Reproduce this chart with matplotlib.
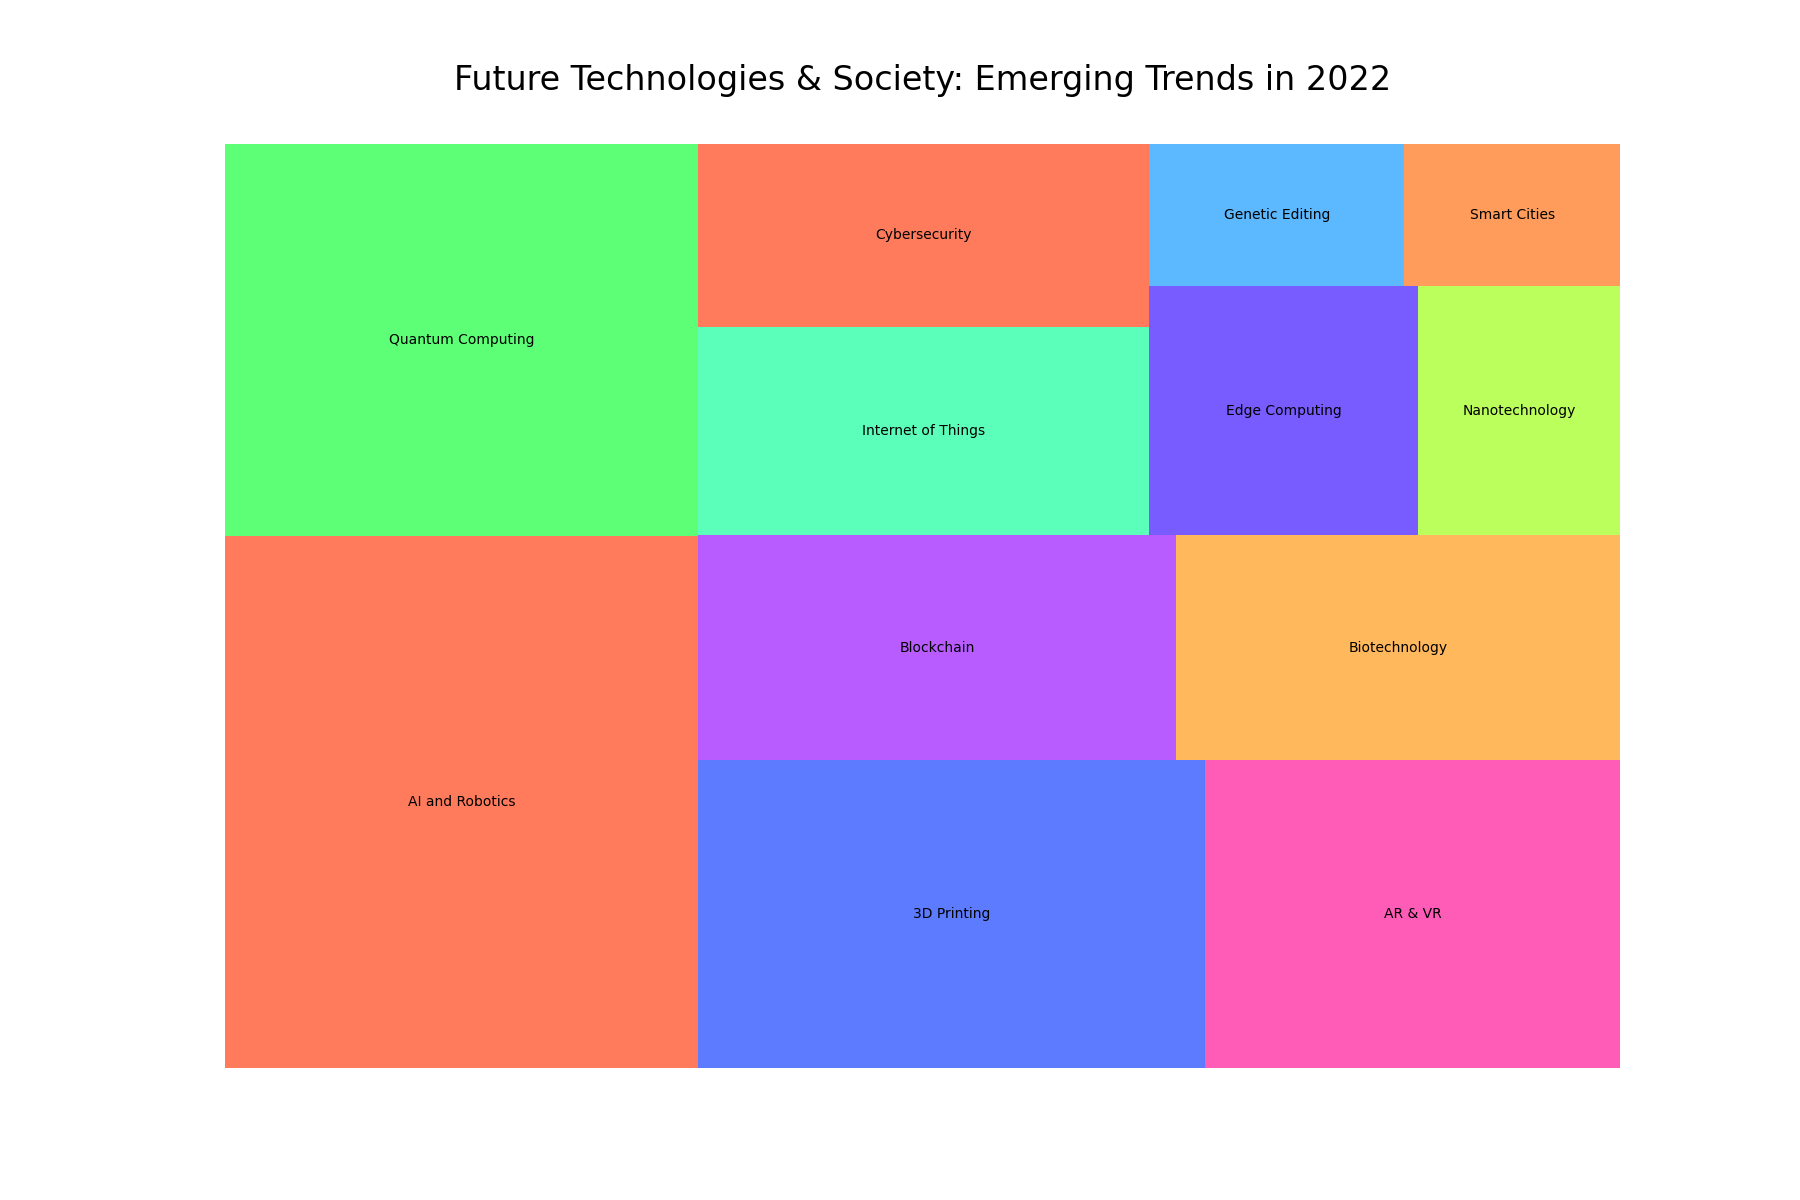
import matplotlib
matplotlib.use("Agg")
import matplotlib.pyplot as plt

labels = ["AI and Robotics", "Quantum Computing", "3D Printing", "AR & VR",
          "Blockchain", "Biotechnology", "Internet of Things", "Cybersecurity",
          "Edge Computing", "Nanotechnology", "Genetic Editing", "Smart Cities"]
values = [19.5, 14.4, 12.1, 9.9, 8.35, 7.75, 7.3, 6.4, 5.2, 3.9, 2.82, 2.38]
colors = ["#FF7B5C", "#5CFF75", "#5C7BFF", "#FF5CB8", "#B85CFF", "#FFB85C",
          "#5CFFBA", "#FF7B5C", "#785CFF", "#BAFF5C", "#5CB8FF", "#FF9C5C"]


# squarified layout (same scheme as the squarify package)
def layout(sizes, x, y, dx, dy):
    rects = []
    if dx >= dy:
        w = sum(sizes) / dy
        for s in sizes:
            rects.append((x, y, w, s / w))
            y += s / w
    else:
        h = sum(sizes) / dx
        for s in sizes:
            rects.append((x, y, s / h, h))
            x += s / h
    return rects


def leftover(sizes, x, y, dx, dy):
    if dx >= dy:
        w = sum(sizes) / dy
        return x + w, y, dx - w, dy
    h = sum(sizes) / dx
    return x, y + h, dx, dy - h


def worst(sizes, x, y, dx, dy):
    return max(max(w / h, h / w) for _, _, w, h in layout(sizes, x, y, dx, dy))


def squarify(sizes, x, y, dx, dy):
    if not sizes:
        return []
    if len(sizes) == 1:
        return layout(sizes, x, y, dx, dy)
    i = 1
    while i < len(sizes) and worst(sizes[:i], x, y, dx, dy) >= worst(sizes[:i + 1], x, y, dx, dy):
        i += 1
    cur, rest = sizes[:i], sizes[i:]
    return layout(cur, x, y, dx, dy) + squarify(rest, *leftover(cur, x, y, dx, dy))


W, H = 100.0, 100.0
total = sum(values)
norm = [v * W * H / total for v in values]
rects = squarify(norm, 0, 0, W, H)

fig, ax = plt.subplots(figsize=(18, 12), dpi=100)
ax.bar([r[0] for r in rects], [r[3] for r in rects], width=[r[2] for r in rects],
       bottom=[r[1] for r in rects], color=colors, align="edge")
for (x, y, w, h), lab in zip(rects, labels):
    ax.text(x + w / 2, y + h / 2, lab, ha="center", va="center", fontsize=10)
ax.set_xlim(0, W)
ax.set_ylim(0, H)
ax.axis("off")
ax.set_title("Future Technologies & Society: Emerging Trends in 2022", fontsize=24, pad=39)

plt.savefig("out.png", dpi=100)
